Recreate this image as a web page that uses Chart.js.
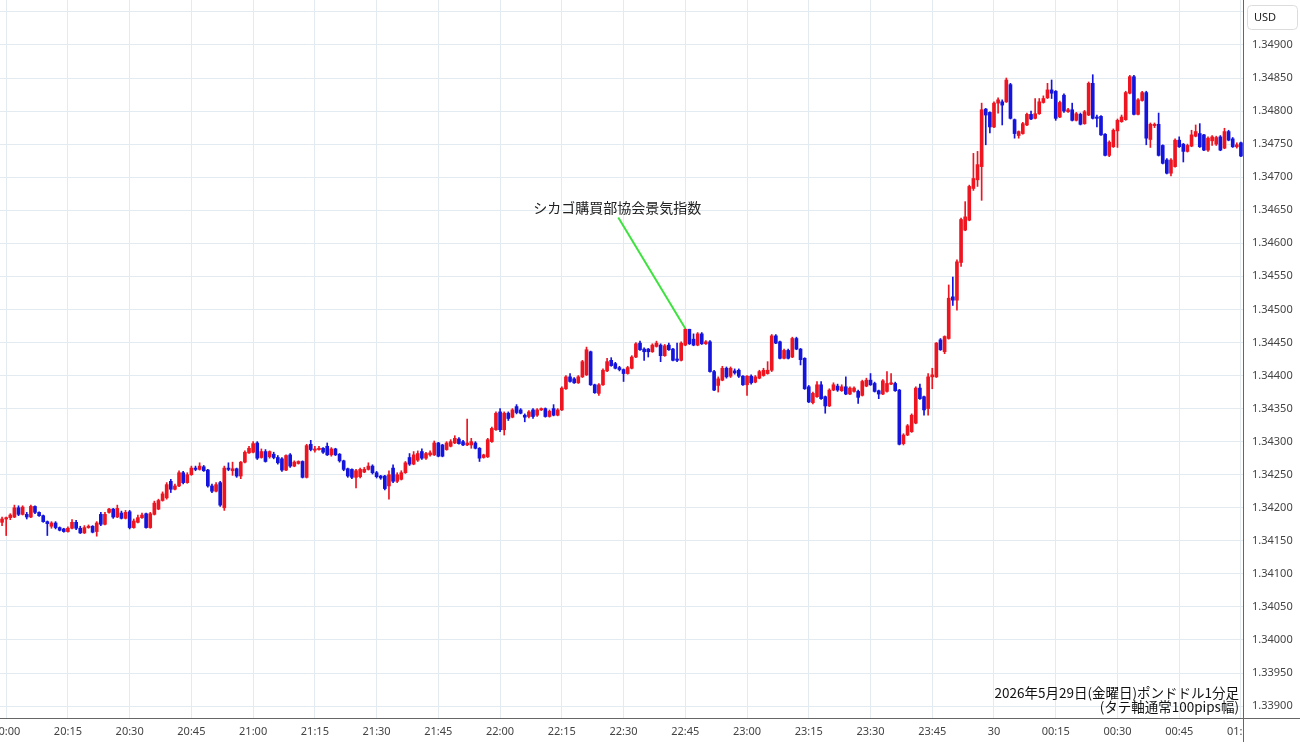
<!DOCTYPE html>
<html>
<head>
<meta charset="utf-8">
<script src="https://cdn.jsdelivr.net/npm/chart.js@4.4.1/dist/chart.umd.min.js"></script>
<style>
html,body{margin:0;padding:0;background:#fff;overflow:hidden}
canvas{display:block}
</style>
</head>
<body>
<canvas id="fx" width="1300" height="745"></canvas>
<script>
// GBP/USD 1分足 2026-05-29 19:59 〜 01:00
// 値は 1.34000 からの pips (例: 18.3 -> 1.34183)
var BASE_PRICE = 1.34;
var START_TIME = '19:59';

var openPips = [
  17.8,18.3,18.5,18.6,20.0,19.0,19.0,18.6,20.2,19.3,18.8,17.9,17.2,17.7,17.0,16.8,16.4,16.9,17.8,16.9,16.2,17.0,17.2,16.4,19.0,17.5,19.3,19.8,18.6,19.2,18.4,19.4,17.0,17.8,18.5,19.1,17.0,19.0,19.8,21.1,21.5,24.0,22.8,23.3,25.3,23.8,25.0,26.0,25.8,26.2,25.7,
  23.3,22.5,23.8,20.0,26.0,25.6,25.9,24.8,26.9,28.3,28.4,29.8,27.6,28.5,27.7,28.1,27.6,27.4,25.7,28.0,26.3,26.7,27.0,24.6,29.6,28.7,28.8,29.0,29.3,28.0,28.9,28.1,27.1,25.9,25.8,24.6,24.7,25.4,25.8,26.3,25.3,24.8,24.8,23.3,26.0,24.0,24.3,25.3,27.6,26.6,
  27.2,28.5,27.5,28.0,28.0,29.8,29.5,28.8,29.3,29.8,30.4,30.0,29.5,29.5,29.8,29.0,27.6,27.7,30.0,31.8,34.5,31.8,34.3,33.7,35.3,34.8,34.0,33.8,34.8,34.0,34.8,35.0,33.8,35.0,34.0,34.8,38.0,39.8,39.5,38.9,39.8,40.1,43.6,38.6,37.3,38.6,40.7,42.3,41.8,41.2,
  40.9,40.3,41.1,42.8,44.9,44.0,44.0,43.6,44.4,44.6,43.0,44.6,44.0,42.5,42.3,44.6,47.0,45.5,44.6,46.3,44.8,45.1,40.6,38.5,39.3,41.1,39.9,40.7,40.8,39.9,38.6,39.9,39.0,39.6,40.0,40.3,40.8,46.0,45.1,42.6,43.8,42.8,45.6,44.0,42.6,38.3,35.9,
  36.8,38.6,36.8,35.4,37.8,38.4,37.7,38.3,37.2,37.6,37.6,37.0,38.4,39.3,38.8,37.7,37.2,37.6,38.7,38.8,37.8,29.7,31.0,31.5,32.8,38.1,36.8,35.0,39.8,39.8,45.4,43.6,45.6,
  51.9,51.4,57.1,62.0,63.5,68.3,69.6,71.6,80.3,79.8,77.6,81.2,81.4,81.4,84.0,78.7,76.3,76.6,77.9,79.5,78.9,79.6,81.3,82.0,83.2,83.0,79.1,82.4,79.9,80.2,78.6,79.5,78.1,79.4,84.2,79.1,79.2,76.5,73.3,74.6,77.0,78.4,78.7,82.7,85.2,79.5,81.6,82.8,75.7,77.8,78.0,74.8,72.6,70.6,71.6,75.6,75.0,73.9,74.7,76.2,76.6,76.4,74.1,75.5,75.0,76.1,74.4,76.9,75.8,74.6,75.2
];
var highPips = [
  18.6,18.6,19.1,20.4,20.3,20.3,19.3,20.4,20.3,19.4,18.9,18.0,17.9,17.9,17.1,16.9,17.1,18.2,18.1,17.2,17.3,17.4,17.3,17.9,19.3,19.3,19.9,19.9,20.4,19.5,19.6,19.6,18.3,18.9,19.2,19.2,19.3,21.0,21.3,22.4,23.8,24.3,23.6,25.6,25.5,25.3,26.3,26.3,26.8,26.4,25.8,
  23.6,23.8,24.0,26.3,26.8,26.9,26.0,27.0,28.6,29.3,30.0,30.0,28.9,28.8,28.6,28.4,27.9,27.6,28.0,28.2,27.1,27.1,27.1,29.6,30.2,29.3,29.3,29.1,29.8,29.1,29.0,28.2,27.2,26.0,25.9,25.8,26.0,26.1,26.8,26.5,25.5,24.9,24.9,25.6,26.5,25.3,25.6,27.0,28.2,28.5,
  28.6,28.9,28.4,28.6,30.1,29.9,29.6,30.0,30.3,30.9,30.6,30.2,33.4,30.5,30.0,29.1,28.1,30.5,32.2,34.5,35.0,34.5,34.5,35.0,35.6,35.0,34.2,34.7,35.0,35.0,35.1,35.1,34.8,35.6,35.0,38.3,40.0,40.3,39.7,40.0,42.3,44.3,43.7,38.7,38.8,41.0,42.6,42.7,42.0,41.4,
  41.0,41.4,43.0,45.0,45.2,44.2,44.1,44.8,45.2,44.8,44.7,44.9,44.1,44.9,45.1,47.1,47.0,46.3,46.5,46.5,45.3,45.3,40.8,39.8,41.4,41.3,41.3,41.0,41.0,40.0,40.0,40.1,40.0,40.8,41.1,42.1,46.2,46.2,45.2,44.0,44.0,45.8,45.8,44.1,42.7,38.5,37.5,
  39.1,39.1,36.9,38.0,38.9,38.7,38.6,39.8,38.3,38.3,37.8,39.3,39.6,40.3,39.0,37.8,39.4,40.6,40.3,39.0,37.9,31.2,32.6,34.2,38.3,38.7,36.9,40.3,41.1,45.0,45.6,46.0,53.7,
  54.9,57.5,63.8,66.3,68.8,73.6,73.9,81.2,80.4,79.9,81.4,82.0,81.7,85.0,84.2,78.8,77.0,78.3,79.7,80.0,81.9,81.9,82.3,84.2,84.7,83.1,81.5,82.6,80.4,81.2,79.8,79.7,80.1,84.4,85.5,79.4,79.3,76.6,75.5,77.3,78.8,79.4,83.0,85.4,85.4,81.9,83.0,83.0,78.2,78.2,79.7,74.9,72.8,72.8,75.8,76.1,75.1,75.0,77.1,77.9,78.1,76.5,76.1,76.3,76.2,76.3,77.4,77.1,76.0,75.2,75.3
];
var lowPips = [
  17.3,15.8,18.2,18.5,18.8,18.9,18.3,18.5,19.1,18.7,17.8,15.8,16.9,16.8,16.5,16.3,16.3,16.8,16.7,16.1,16.1,16.9,16.2,15.7,17.3,17.4,19.2,18.4,18.5,18.3,18.3,16.8,16.9,17.7,18.4,16.9,16.9,18.9,19.7,21.0,21.3,22.3,22.7,23.2,23.6,23.7,24.9,25.6,25.7,25.5,23.1,
  22.3,22.4,20.2,19.6,25.6,24.9,24.6,24.4,26.8,28.2,28.3,27.3,27.5,26.9,27.5,27.4,26.6,25.5,25.6,26.1,26.2,26.6,24.5,24.5,28.6,28.4,28.7,28.2,27.9,27.8,27.9,26.9,25.6,24.6,24.4,23.0,24.5,25.3,25.7,25.1,24.5,24.3,22.7,21.3,23.8,23.8,24.2,25.2,26.4,26.5,
  27.0,27.3,27.3,27.8,27.9,27.7,27.7,28.7,29.2,29.7,29.6,29.4,29.4,29.0,28.9,27.0,27.5,27.6,29.9,31.7,31.5,31.0,33.2,33.6,34.2,34.2,33.0,33.6,33.5,33.8,34.7,33.7,33.7,33.9,33.9,34.7,37.9,39.0,38.8,38.8,39.7,40.0,38.5,37.3,37.0,38.5,40.6,41.4,41.0,40.7,
  39.1,40.2,41.0,42.7,43.8,42.3,42.8,43.5,44.3,42.1,42.9,43.8,42.2,42.1,42.2,44.5,44.7,44.5,44.5,44.7,44.7,40.5,37.7,37.5,39.2,39.6,39.7,40.2,39.7,38.5,37.0,38.7,38.9,39.5,39.9,40.2,40.6,44.8,42.5,42.5,42.5,42.7,43.9,41.6,37.9,35.9,35.7,
  36.7,36.4,34.3,35.3,37.7,37.6,37.6,37.1,37.1,37.5,35.8,36.9,38.3,38.5,37.5,36.5,37.1,37.5,38.6,37.6,29.5,29.5,30.9,31.4,32.7,36.4,34.0,34.0,38.0,39.7,43.8,43.3,45.5,
  50.6,49.9,56.5,61.9,63.4,68.0,68.6,66.5,74.9,76.7,77.5,79.7,77.9,81.3,78.8,75.9,75.9,76.5,77.8,78.7,78.8,79.5,81.2,81.9,81.9,78.6,79.0,79.8,79.8,78.5,78.5,77.9,78.0,79.3,78.8,77.6,76.3,73.2,73.1,74.5,74.5,78.3,78.6,82.6,79.4,79.4,81.5,74.9,74.5,77.5,73.2,72.0,70.5,70.2,71.5,74.5,72.3,73.8,74.6,76.1,74.5,74.0,73.9,74.8,74.8,74.0,74.3,75.5,74.5,74.4,73.1
];
var closePips = [
  18.3,18.5,18.9,20.0,19.0,20.1,18.6,20.2,19.3,18.8,17.9,17.6,17.7,17.0,16.6,16.4,16.9,17.8,16.9,16.2,17.0,17.2,16.3,17.7,17.5,19.0,19.8,18.6,19.9,18.4,19.3,17.0,18.0,18.5,18.9,17.0,19.1,20.7,21.1,22.1,23.5,22.8,23.3,25.3,23.8,25.0,26.0,25.8,26.3,25.6,23.3,
  22.5,23.5,20.4,26.0,25.8,25.9,24.8,26.9,28.4,29.0,29.7,27.5,28.5,27.0,28.5,27.6,26.8,25.7,27.9,26.3,26.9,27.0,24.6,29.4,28.8,28.9,29.0,28.4,28.0,28.9,28.0,27.1,25.8,24.8,24.6,25.6,25.8,25.8,26.3,25.3,24.7,24.5,22.9,25.0,24.0,25.0,25.3,26.8,26.6,28.0,
  28.2,27.5,28.2,28.3,29.8,27.8,27.8,29.8,30.0,30.5,29.7,29.5,29.8,30.0,29.0,27.5,28.0,30.3,32.0,34.3,31.8,34.3,33.5,34.8,34.4,34.3,33.7,34.5,33.8,34.8,35.0,33.8,34.6,34.0,34.8,38.1,39.8,39.1,38.9,39.8,42.1,43.9,38.6,37.4,38.6,40.8,42.1,41.5,41.1,40.9,
  40.3,41.2,42.8,44.8,43.9,43.6,43.6,44.6,44.9,43.0,44.5,43.9,42.3,42.3,44.9,47.0,44.8,44.6,46.3,44.8,45.1,40.6,37.8,39.5,41.1,39.8,41.1,40.4,39.9,38.6,39.9,38.9,39.8,40.6,40.8,40.8,46.0,44.9,42.6,43.8,42.6,45.6,44.0,42.4,38.0,36.0,37.3,
  38.6,36.5,35.4,37.8,38.6,37.8,38.3,37.2,38.1,38.1,36.7,39.1,39.3,38.6,37.6,37.2,39.2,38.8,38.9,37.7,29.6,31.0,32.4,34.0,38.1,36.5,34.8,39.8,40.1,44.9,43.9,45.9,51.7,
  51.4,57.2,63.6,64.0,68.6,69.8,71.9,80.2,79.4,77.6,81.2,81.7,80.9,84.7,78.9,76.6,76.9,78.1,79.5,78.8,79.6,81.4,81.9,83.2,82.7,78.9,81.3,80.0,80.2,78.6,79.6,78.0,79.9,84.2,78.9,78.9,76.4,73.3,75.3,77.1,78.6,79.1,82.8,85.2,79.5,81.7,82.8,75.9,78.0,78.0,73.3,72.1,70.6,72.6,75.6,74.6,73.9,74.8,76.4,76.9,74.6,74.1,75.9,76.1,76.0,74.1,76.9,75.6,74.6,74.9,73.2
];

// 横軸の目盛り
var tickTimes = ['20:00','20:15','20:30','20:45','21:00','21:15','21:30','21:45','22:00','22:15','22:30','22:45','23:00','23:15','23:30','23:45','00:00','00:15','00:30','00:45','01:00'];
var tickNames = ['20:00','20:15','20:30','20:45','21:00','21:15','21:30','21:45','22:00','22:15','22:30','22:45','23:00','23:15','23:30','23:45','30','00:15','00:30','00:45','01:00'];

// 縦軸
var yMin = 1.33882, yMax = 1.34968, yStep = 0.0005;

var eventTime = '22:45';
var eventText = 'シカゴ購買部協会景気指数';
var titleLines = ['2026年5月29日(金曜日)ポンドドル1分足', '(タテ軸通常100pips幅)'];

var UP = '#ee1420', DOWN = '#1414dc', GRID = '#e3eaf0', AXIS = '#666';

function pad(n){ return (n<10?'0':'')+n; }
function toPrice(p){ return +(BASE_PRICE + p/10000).toFixed(5); }

var t0 = parseInt(START_TIME.split(':')[0],10)*60 + parseInt(START_TIME.split(':')[1],10);
var timeLabels = openPips.map(function(_,i){
  var t = (t0+i) % 1440;
  return pad(Math.floor(t/60))+':'+pad(t%60);
});

var colors = openPips.map(function(o,i){ return closePips[i] >= o ? UP : DOWN; });
var bodies = openPips.map(function(o,i){
  return [toPrice(Math.min(o,closePips[i])), toPrice(Math.max(o,closePips[i]))];
});
var wicks = lowPips.map(function(l,i){ return [toPrice(l), toPrice(highPips[i])]; });

Chart.defaults.font.family = '"Noto Sans", "Noto Sans CJK JP", sans-serif';

var decor = {
  id:'decor',
  afterDraw:function(chart){
    var c = chart.ctx, a = chart.chartArea, W = chart.width, H = chart.height;
    var xs = chart.scales.x, ys = chart.scales.y;
    c.save();
    // 右下の余白
    c.fillStyle = '#fff';
    c.fillRect(a.right+1, a.bottom+1, W-a.right, H-a.bottom);
    // 軸線
    c.strokeStyle = AXIS; c.lineWidth = 1;
    c.beginPath();
    c.moveTo(0, a.bottom+0.5); c.lineTo(W, a.bottom+0.5);
    c.moveTo(a.right+0.5, 0); c.lineTo(a.right+0.5, H-3);
    c.stroke();
    // USD
    c.strokeStyle = '#dcdcdc';
    c.beginPath();
    if(c.roundRect) c.roundRect(a.right+4.5, 5.5, 50, 24, 4); else c.rect(a.right+4.5, 5.5, 50, 24);
    c.stroke();
    c.fillStyle = '#222';
    c.font = '11px "Noto Sans", sans-serif';
    c.textAlign = 'center'; c.textBaseline = 'middle';
    c.fillText('USD', a.right+22, 17.5);

    // 指標の注記
    var k = timeLabels.indexOf(eventTime);
    var tipX = xs.getPixelForValue(k), tipY = ys.getPixelForValue(toPrice(highPips[k]));
    c.strokeStyle = '#3ee23e'; c.lineWidth = 2;
    c.beginPath(); c.moveTo(tipX-67, tipY-111); c.lineTo(tipX, tipY); c.stroke();
    c.fillStyle = '#222';
    c.font = '14px "Noto Sans CJK JP", sans-serif';
    c.fillText(eventText, tipX-68, tipY-121);

    // タイトル
    c.textAlign = 'right';
    c.font = '13.5px "Noto Sans CJK JP", sans-serif';
    c.fillStyle = '#111';
    c.fillText(titleLines[0], a.right-4, 693);
    c.fillText(titleLines[1], a.right-4, 707);
    c.restore();
  }
};

new Chart(document.getElementById('fx'), {
  type:'bar',
  data:{
    labels: timeLabels,
    datasets:[
      {label:'wick', data:wicks, backgroundColor:colors, barThickness:1, grouped:false, order:2, borderWidth:0},
      {label:'body', data:bodies, backgroundColor:colors, barThickness:3, grouped:false, order:1, borderWidth:0, minBarLength:1}
    ]
  },
  options:{
    responsive:false, animation:false,
    layout:{padding:0},
    plugins:{legend:{display:false}, tooltip:{enabled:false}},
    scales:{
      x:{
        offset:true,
        grid:{offset:false, drawTicks:false,
          color:function(ctx){ return tickTimes.indexOf(timeLabels[ctx.index])>=0 ? GRID : 'rgba(0,0,0,0)'; }},
        border:{display:false},
        ticks:{autoSkip:false, maxRotation:0, minRotation:0, padding:7, color:'#444', font:{size:11},
          callback:function(v,i){ var j = tickTimes.indexOf(timeLabels[i]); return j>=0 ? tickNames[j] : ''; }},
        afterFit:function(s){ s.height = 27; s.paddingLeft = 0; s.paddingRight = 0; }
      },
      y:{
        position:'right', min:yMin, max:yMax,
        grid:{color:GRID, drawTicks:false},
        border:{display:false},
        ticks:{stepSize:yStep, includeBounds:false, padding:9, color:'#444', font:{size:11},
          callback:function(v){ return v > yMax-0.0004 ? '' : Number(v).toFixed(5); }},
        afterFit:function(s){ s.width = 57; s.paddingTop = 0; s.paddingBottom = 0; }
      }
    }
  },
  plugins:[decor]
});
</script>
</body>
</html>
